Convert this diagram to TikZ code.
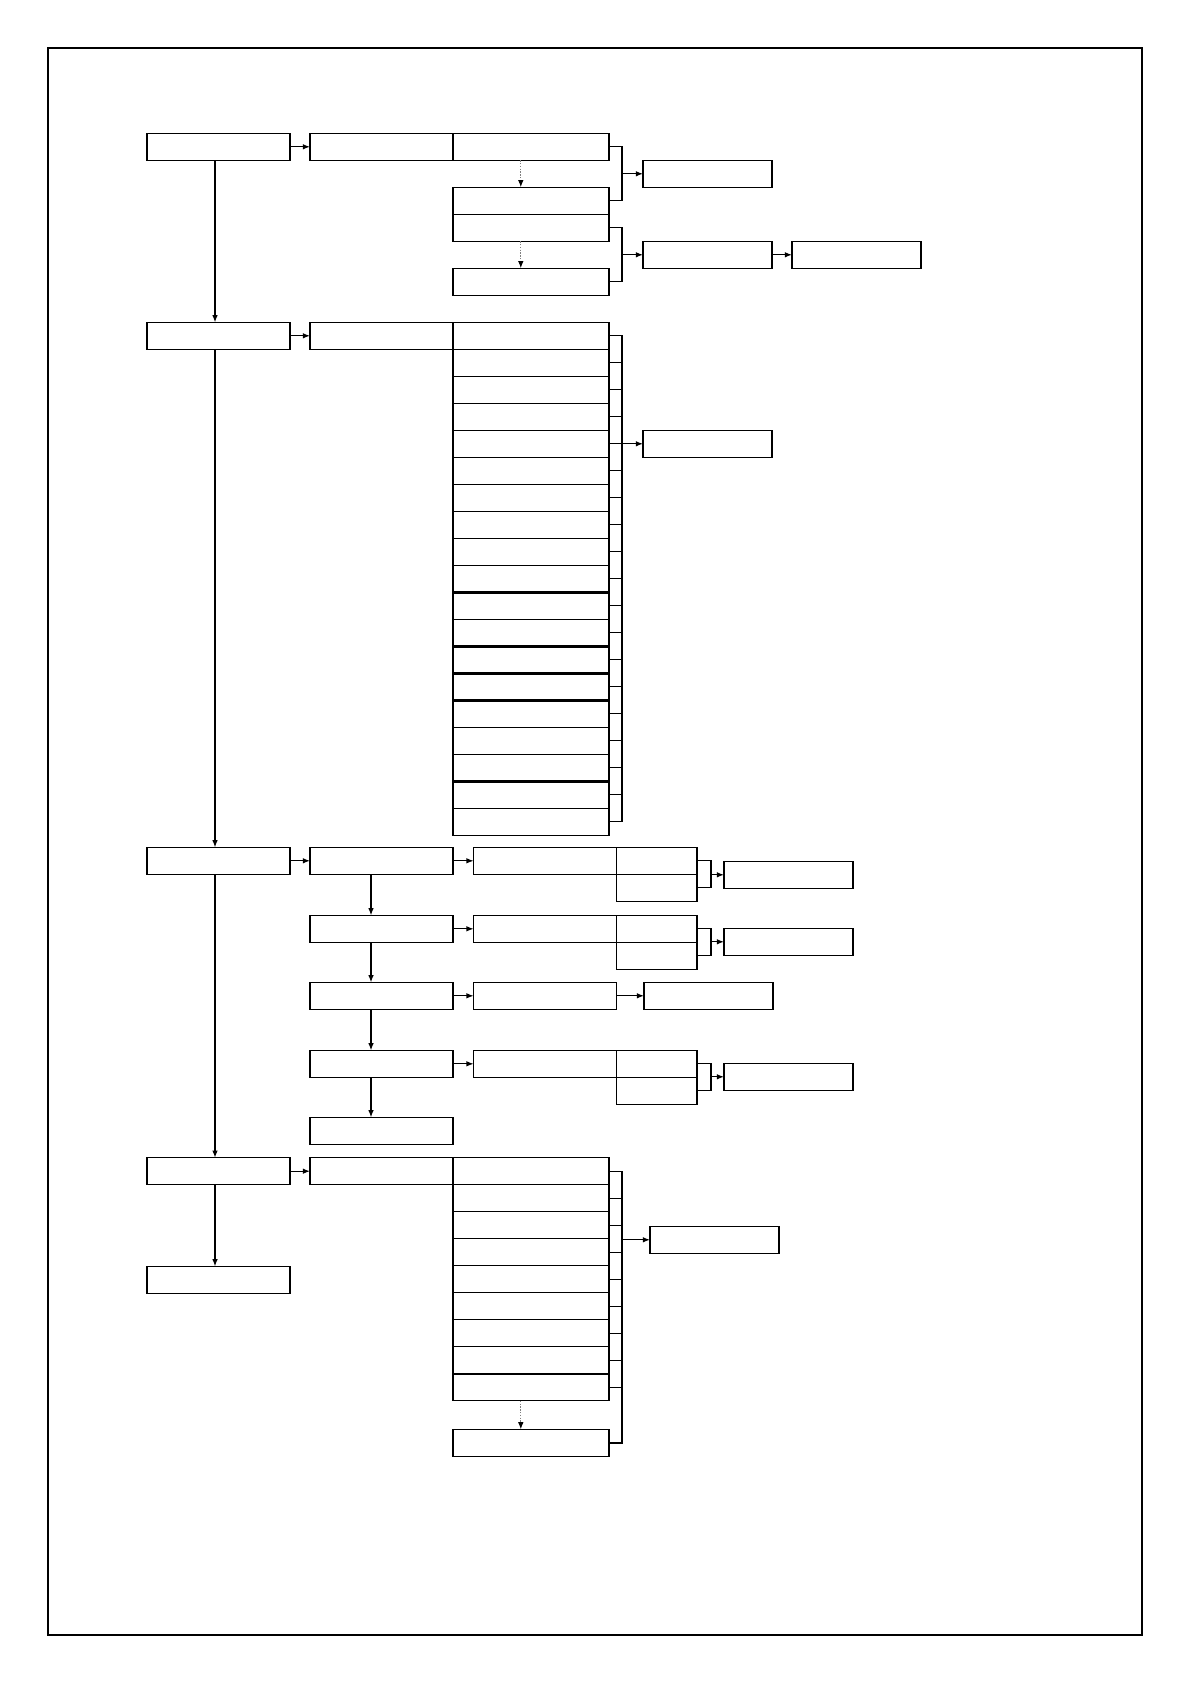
\documentclass[tikz,border=0pt]{standalone}
\usetikzlibrary{arrows.meta,calc}
\tikzset{
  box/.style={draw, line width=0.6pt, rectangle, inner sep=0pt, outer sep=0pt},
  arr/.style={line width=0.6pt, -{Latex[length=3.6pt,width=2.8pt]}},
  dotarr/.style={line width=0.6pt, draw=gray, dash pattern=on 0.7pt off 0.7pt, -{Latex[length=3.6pt,width=2.8pt,color=black]}},
  link/.style={line width=0.6pt},
  sepline/.style={line width=1.2pt}
}
\newcommand\mybox[5]{%
  \pgfmathsetmacro\myBW{(#4-#2)*0.5}%
  \pgfmathsetmacro\myBH{(#5-#3)*0.5}%
  \node[box, minimum width=\myBW pt, minimum height=\myBH pt] (#1) at ({(#2+#4)/2},{(#3+#5)/2}) {};}
\begin{document}
\begin{tikzpicture}[x=0.5pt,y=-0.5pt]
\useasboundingbox (0,0) rectangle (1191,1684);
\draw[link] (48,48) rectangle (1142,1635);

% ---- Section 1 ----
\mybox{A1}{147}{133.3}{290}{160.3}
\mybox{B1}{310}{133.3}{453}{160.3}
\mybox{C1}{453}{133.3}{609}{160.3}
\mybox{C2}{453}{187.3}{609}{214.3}
\mybox{C3}{453}{214.3}{609}{241.3}
\mybox{C4}{453}{268.3}{609}{295.3}
\mybox{D1}{643}{160.3}{772}{187.3}
\mybox{D2}{643}{241.3}{772}{268.3}
\mybox{E2}{792}{241.3}{921}{268.3}
\draw[arr] (A1.east) -- (B1.west);
\draw[dotarr] ([xshift=-5.1pt]C1.south) -- ([xshift=-5.1pt]C2.north);
\draw[dotarr] ([xshift=-5.1pt]C3.south) -- ([xshift=-5.1pt]C4.north);
\coordinate (k1) at (622,173.8);
\coordinate (k2) at (622,254.8);
\draw[link] (C1.east) -| (k1) |- (C2.east);
\draw[arr] (k1) -- (D1.west);
\draw[link] (C3.east) -| (k2) |- (C4.east);
\draw[arr] (k2) -- (D2.west);
\draw[arr] (D2.east) -- (E2.west);

% ---- Section 2 ----
\mybox{A2}{147}{322.3}{290}{349.3}
\mybox{B2}{310}{322.3}{453}{349.3}
\foreach \i in {1,...,19}{%
  \pgfmathsetmacro\myYA{322.3+27*(\i-1)}%
  \pgfmathsetmacro\myYB{\myYA+27}%
  \mybox{R\i}{453}{\myYA}{609}{\myYB}}
\foreach \k in {10,12,13,14,17}{\draw[sepline] (R\k.south west) -- (R\k.south east);}
\mybox{D3}{643}{430.3}{772}{457.3}
\coordinate (k3) at (622,443.8);
\draw[link] (R1.east) -- (R1.east -| k3) -- (R19.east -| k3) -- (R19.east);
\foreach \i in {2,...,18}{\draw[link] (R\i.east) -- (R\i.east -| k3);}
\draw[arr] (k3) -- (D3.west);
\draw[arr] (A2.east) -- (B2.west);

% ---- Section 3 ----
\mybox{A3}{147}{847.3}{290}{874.3}
\mybox{B3a}{310}{847.3}{453}{874.3}
\mybox{F1}{473.6}{847.3}{616.4}{874.3}
\mybox{G1a}{616.4}{847.3}{697}{874.3}
\mybox{G1b}{616.4}{874.3}{697}{901.3}
\mybox{H1}{724}{861.3}{853}{888.3}

\mybox{B3b}{310}{915.3}{453}{942.3}
\mybox{F2}{473.6}{915.3}{616.4}{942.3}
\mybox{G2a}{616.4}{915.3}{697}{942.3}
\mybox{G2b}{616.4}{942.3}{697}{969.3}
\mybox{H2}{724}{928.3}{853}{955.3}

\mybox{B3c}{310}{982.3}{453}{1009.3}
\mybox{F3}{473.6}{982.3}{616.4}{1009.3}
\mybox{I3}{644}{982.3}{773}{1009.3}

\mybox{B3d}{310}{1050.3}{453}{1077.3}
\mybox{F4}{473.6}{1050.3}{616.4}{1077.3}
\mybox{G4a}{616.4}{1050.3}{697}{1077.3}
\mybox{G4b}{616.4}{1077.3}{697}{1104.3}
\mybox{H4}{724}{1063.3}{853}{1090.3}

\mybox{B3e}{310}{1117.3}{453}{1144.3}

\draw[arr] (A3.east) -- (B3a.west);
\draw[arr] (B3a.east) -- (F1.west);
\draw[arr] (B3b.east) -- (F2.west);
\draw[arr] (B3c.east) -- (F3.west);
\draw[arr] (B3d.east) -- (F4.west);
\draw[arr] (F3.east) -- (I3.west);
\draw[arr] ([xshift=-5.25pt]B3a.south) -- ([xshift=-5.25pt]B3b.north);
\draw[arr] ([xshift=-5.25pt]B3b.south) -- ([xshift=-5.25pt]B3c.north);
\draw[arr] ([xshift=-5.25pt]B3c.south) -- ([xshift=-5.25pt]B3d.north);
\draw[arr] ([xshift=-5.25pt]B3d.south) -- ([xshift=-5.25pt]B3e.north);
\coordinate (k4) at (711,874.8);
\coordinate (k5) at (711,941.8);
\coordinate (k6) at (711,1076.8);
\draw[link] (G1a.east) -| (k4) |- (G1b.east);
\draw[arr] (k4) -- (H1.west);
\draw[link] (G2a.east) -| (k5) |- (G2b.east);
\draw[arr] (k5) -- (H2.west);
\draw[link] (G4a.east) -| (k6) |- (G4b.east);
\draw[arr] (k6) -- (H4.west);

% ---- Section 4 ----
\mybox{A4}{147}{1157.7}{290}{1184.7}
\mybox{B4}{310}{1157.7}{453}{1184.7}
\foreach \i in {1,...,9}{%
  \pgfmathsetmacro\myYA{1157.7+27*(\i-1)}%
  \pgfmathsetmacro\myYB{\myYA+27}%
  \mybox{S\i}{453}{\myYA}{609}{\myYB}}
\mybox{S10}{453}{1429.4}{609}{1456.4}
\draw[sepline] (S8.south west) -- (S8.south east);
\mybox{J}{650}{1226.3}{779}{1253.3}
\coordinate (k7) at (622,1239.8);
\draw[link] (S1.east) -- (S1.east -| k7) -- (S10.east -| k7) -- (S10.east);
\foreach \i in {2,...,9}{\draw[link] (S\i.east) -- (S\i.east -| k7);}
\draw[arr] (k7) -- (J.west);
\draw[dotarr] ([xshift=-5.1pt]S9.south) -- ([xshift=-5.1pt]S10.north);
\draw[arr] (A4.east) -- (B4.west);
\mybox{A5}{147}{1266.3}{290}{1293.3}

% ---- main vertical chain ----
\draw[arr] ([xshift=-1.75pt]A1.south) -- ([xshift=-1.75pt]A2.north);
\draw[arr] ([xshift=-1.75pt]A2.south) -- ([xshift=-1.75pt]A3.north);
\draw[arr] ([xshift=-1.75pt]A3.south) -- ([xshift=-1.75pt]A4.north);
\draw[arr] ([xshift=-1.75pt]A4.south) -- ([xshift=-1.75pt]A5.north);
\end{tikzpicture}
\end{document}
